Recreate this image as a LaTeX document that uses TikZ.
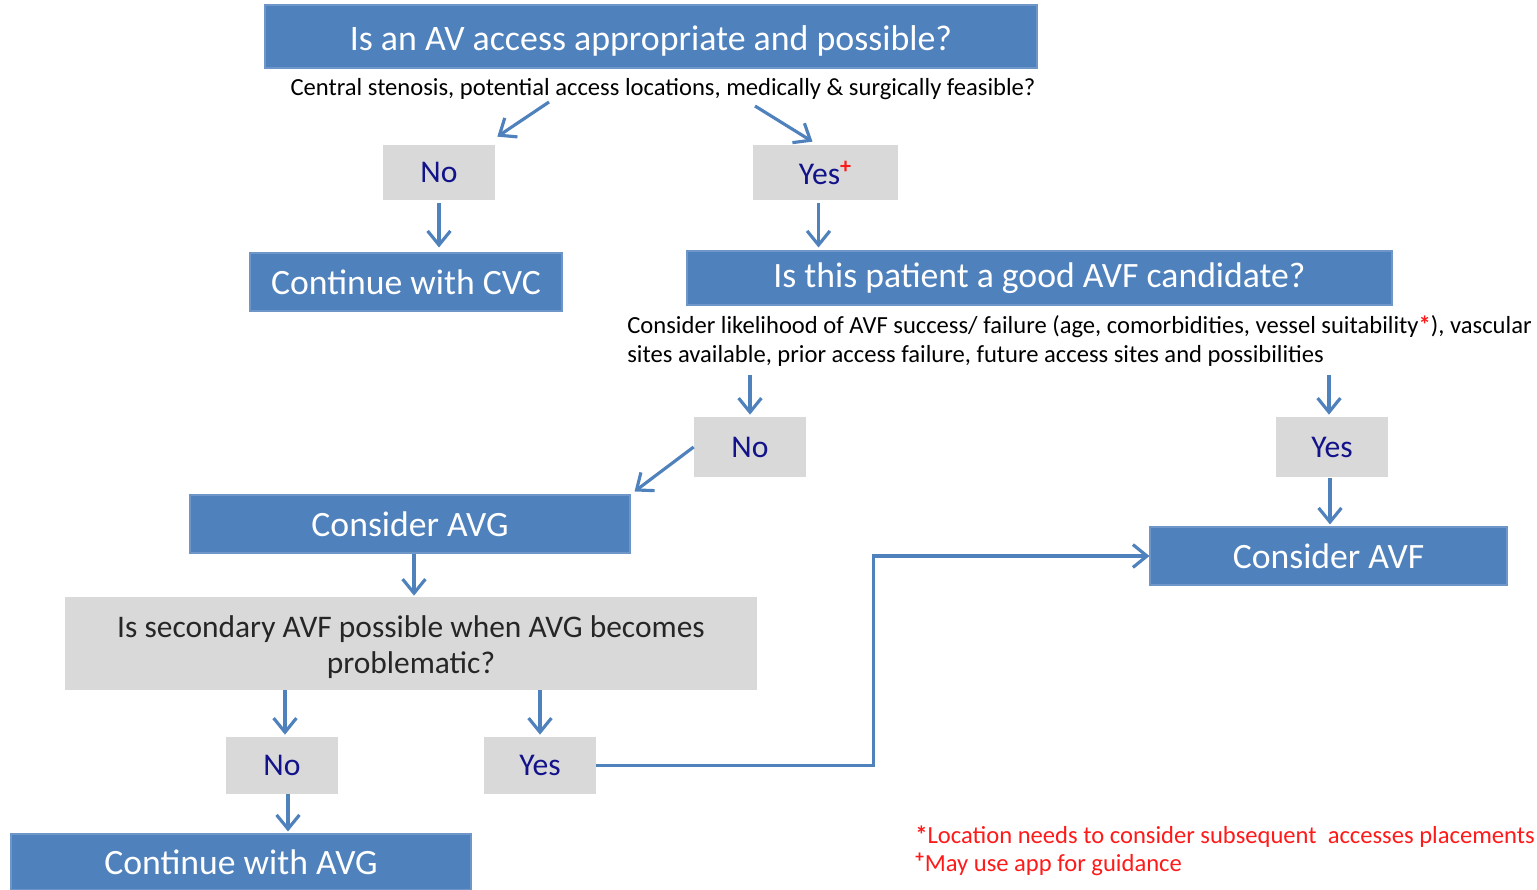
\documentclass[tikz,border=0pt]{standalone}
\usepackage{fontspec}
\setmainfont{Carlito}
\usetikzlibrary{arrows.meta,calc}
\newdimen\px \px=0.02cm
\definecolor{boxblue}{HTML}{4F81BD}
\definecolor{boxedge}{HTML}{6E96C8}
\definecolor{boxgray}{HTML}{D9D9D9}
\definecolor{labelnavy}{HTML}{12128A}
\definecolor{notered}{HTML}{FF1A1A}
\tikzset{
  bluebox/.style={fill=boxblue, draw=boxedge, line width=0.6pt, text=white,
    inner sep=0pt, align=center},
  graybox/.style={fill=boxgray, inner sep=0pt, text=labelnavy, align=center,
    font=\fontsize{18pt}{21pt}\selectfont},
  bigtext/.style={font=\fontsize{20.3pt}{24pt}\selectfont},
  smalltext/.style={inner sep=0pt, text=black, font=\fontsize{14pt}{17pt}\selectfont},
  arr/.style={draw=boxblue, line width=1.8pt,
    -{Straight Barb[length=8pt,width=13pt,line width=1.8pt]}},
}
\begin{document}
\begin{tikzpicture}[x=0.02cm, y=-0.02cm]
\useasboundingbox (0,0) rectangle (1537,889);

% first question
\node[bluebox, minimum width=772\px, minimum height=63\px, text depth=0pt,
  font=\fontsize{20.4pt}{24pt}\selectfont] (q1) at (651,36.5)
  {\raisebox{-3\px}{Is an AV access appropriate and possible?}};
\node[smalltext] (sub1) at (663,89)
  {Central stenosis, potential access locations, medically \& surgically feasible?};
\node[graybox, minimum width=112\px, minimum height=55\px] (no1) at (439,172.5) {No};
\node[graybox, minimum width=145\px, minimum height=55\px] (yes1) at (825.5,172.5)
  {Yes\textsuperscript{\textcolor{notered}{\textbf{+}}}};
\node[bluebox, bigtext, minimum width=312\px, minimum height=58\px] (cvc) at (406,282)
  {Continue with CVC};

% second question
\node[bluebox, bigtext, minimum width=705\px, minimum height=54\px] (q2) at (1039.5,278)
  {Is this patient a good AVF candidate?};
\node[smalltext, align=left, anchor=west] (sub2) at (627,341)
  {Consider likelihood of AVF success/ failure (age, comorbidities, vessel suitability\textcolor{notered}{\textbf{*}}), vascular\\
   sites available, prior access failure, future access sites and possibilities};
\node[graybox, minimum width=112\px, minimum height=60\px] (no2) at (750,447) {No};
\node[graybox, minimum width=112\px, minimum height=60\px] (yes2) at (1332,447) {Yes};
\node[bluebox, bigtext, minimum width=440\px, minimum height=58\px] (avg) at (410,524)
  {Consider AVG};
\node[bluebox, bigtext, minimum width=357\px, minimum height=58\px] (avf) at (1328.5,556)
  {Consider AVF};

% third question
\node[graybox, text=black!85, minimum width=692\px, minimum height=93\px,
  font=\fontsize{17.9pt}{20.4pt}\selectfont] (q3) at (411,643.5)
  {\raisebox{-4\px}[\height][\depth]{\parbox{690\px}{\centering Is secondary AVF possible when AVG becomes\\problematic?}}};
\node[graybox, minimum width=112\px, minimum height=57\px] (no3) at (282,765.5) {No};
\node[graybox, minimum width=112\px, minimum height=57\px] (yes3) at (540,765.5) {Yes};
\node[bluebox, bigtext, minimum width=460\px, minimum height=56\px] (cavg) at (241,862)
  {Continue with AVG};

% footnotes
\node[smalltext, text=notered, align=left, anchor=west,
  font=\fontsize{14pt}{15.9pt}\selectfont] (notes) at (915,851)
  {\textbf{*}Location needs to consider subsequent\ \ accesses placements\\
   \textsuperscript{\textbf{+}}May use app for guidance};

% connectors
\coordinate (s1) at (549,102);
\coordinate (s2) at (755,106);
\draw[arr] (s1) -- ([shift={(2,-8)}]no1.north east);
\draw[arr] (s2) -- ([xshift=-13\px,yshift=3\px]yes1.north);
\draw[arr, shorten <=3\px, shorten >=5\px] (no1.south) -- (no1.south |- cvc.north);
\draw[arr, shorten <=3\px, shorten >=3\px] ([xshift=-7\px]yes1.south) -- ([xshift=-7\px]yes1.south |- q2.north);
\draw[arr, shorten >=2\px] (no2.north |- 0,375) -- (no2.north);
\draw[arr, shorten >=2\px] ([xshift=-3\px]yes2.north |- 0,375) -- ([xshift=-3\px]yes2.north);
\draw[arr, shorten >=5\px] (no2.west) -- (avg.north east);
\draw[arr, shorten <=1\px, shorten >=2\px] ([xshift=-2\px]yes2.south) -- ([xshift=-2\px]yes2.south |- avf.north);
\draw[arr, shorten >=1\px] ([xshift=4\px]avg.south) -- ([xshift=4\px]avg.south |- q3.north);
\draw[arr, shorten >=2\px] ([xshift=3\px]no3.north |- q3.south) -- ([xshift=3\px]no3.north);
\draw[arr, shorten >=2\px] (yes3.north |- q3.south) -- (yes3.north);
\draw[arr, shorten >=2\px] ([xshift=6\px]no3.south) -- ([xshift=6\px]no3.south |- cavg.north);
\draw[arr] (yes3.east) -- ++(277,0) |- (avf.west);
\end{tikzpicture}
\end{document}
